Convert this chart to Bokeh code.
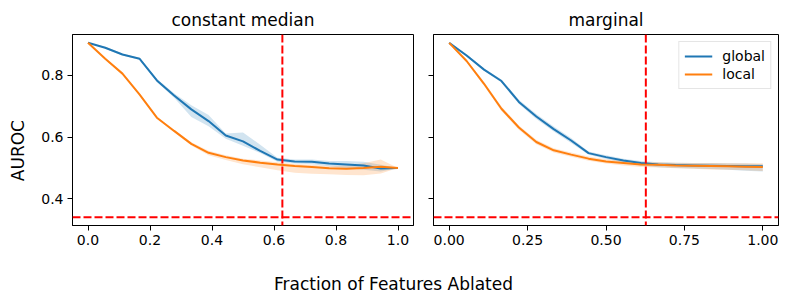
from bokeh.plotting import figure
from bokeh.layouts import row, column
from bokeh.models import (Range1d, Span, Legend, LegendItem, Label, FixedTicker,
                          NumeralTickFormatter, CustomJSTickFormatter)
from bokeh.embed import file_html
from bokeh.resources import INLINE

# ---------------- data ----------------
frac = [i / 18 for i in range(19)]

cm_global = [0.906, 0.890, 0.868, 0.854, 0.784, 0.735, 0.690, 0.652, 0.605, 0.586,
             0.555, 0.527, 0.521, 0.520, 0.514, 0.511, 0.508, 0.498, 0.500]
cm_global_lo = [0.906, 0.887, 0.865, 0.851, 0.779, 0.728, 0.665, 0.635, 0.595, 0.572,
                0.548, 0.520, 0.514, 0.512, 0.505, 0.500, 0.494, 0.488, 0.500]
cm_global_hi = [0.906, 0.893, 0.871, 0.857, 0.789, 0.742, 0.703, 0.672, 0.612, 0.615,
                0.575, 0.533, 0.527, 0.527, 0.522, 0.522, 0.520, 0.510, 0.500]

cm_local = [0.906, 0.854, 0.806, 0.738, 0.663, 0.620, 0.578, 0.549, 0.535, 0.524,
            0.517, 0.511, 0.506, 0.503, 0.499, 0.497, 0.500, 0.504, 0.500]
cm_local_lo = [0.906, 0.852, 0.804, 0.735, 0.660, 0.616, 0.573, 0.541, 0.526, 0.512,
               0.502, 0.492, 0.484, 0.481, 0.479, 0.477, 0.476, 0.482, 0.500]
cm_local_hi = [0.906, 0.856, 0.808, 0.741, 0.666, 0.624, 0.583, 0.556, 0.541, 0.530,
               0.524, 0.518, 0.513, 0.510, 0.506, 0.508, 0.515, 0.527, 0.500]

mg_global = [0.906, 0.865, 0.819, 0.782, 0.714, 0.667, 0.626, 0.589, 0.548, 0.535,
             0.524, 0.516, 0.511, 0.509, 0.508, 0.507, 0.506, 0.505, 0.505]
mg_global_lo = [0.906, 0.861, 0.815, 0.777, 0.707, 0.659, 0.618, 0.581, 0.543, 0.529,
                0.517, 0.508, 0.502, 0.500, 0.498, 0.496, 0.494, 0.491, 0.488]
mg_global_hi = [0.906, 0.869, 0.823, 0.787, 0.721, 0.675, 0.634, 0.597, 0.553, 0.541,
                0.530, 0.522, 0.518, 0.517, 0.516, 0.516, 0.515, 0.514, 0.512]

mg_local = [0.906, 0.847, 0.773, 0.692, 0.631, 0.584, 0.557, 0.543, 0.530, 0.521,
            0.516, 0.511, 0.510, 0.508, 0.507, 0.506, 0.505, 0.504, 0.503]
mg_local_lo = [0.906, 0.843, 0.767, 0.685, 0.624, 0.577, 0.550, 0.536, 0.523, 0.514,
               0.508, 0.503, 0.501, 0.499, 0.497, 0.495, 0.494, 0.492, 0.490]
mg_local_hi = [0.906, 0.851, 0.779, 0.699, 0.638, 0.591, 0.564, 0.550, 0.537, 0.528,
               0.523, 0.519, 0.518, 0.517, 0.516, 0.516, 0.515, 0.515, 0.515]

vline_x = 0.627
hline_y = 0.340

titles = ["constant median", "marginal"]
series_names = ["global", "local"]
x_ticks_left = [0.0, 0.2, 0.4, 0.6, 0.8, 1.0]
x_ticks_right = [0.0, 0.25, 0.5, 0.75, 1.0]
y_ticks = [0.4, 0.6, 0.8]

BLUE = "#1f77b4"
ORANGE = "#ff7f0e"
FONT = "DejaVu Sans"


def make_panel(title, g, glo, ghi, l, llo, lhi, width, mb_left, mb_right, xticks, xfmt, show_ylabels, legend):
    p = figure(width=width, height=255, output_backend="svg", toolbar_location=None,
               x_range=Range1d(-0.05, 1.05), y_range=Range1d(0.313, 0.933),
               min_border_left=mb_left, min_border_right=mb_right,
               min_border_top=34, min_border_bottom=30, title=title)
    p.title.align = "center"
    p.title.text_font = FONT
    p.title.text_font_size = "17px"
    p.title.text_font_style = "normal"
    p.title.text_color = "black"
    p.xgrid.visible = False
    p.ygrid.visible = False
    p.outline_line_color = "black"
    p.outline_line_alpha = 1
    for ax in (p.xaxis[0], p.yaxis[0]):
        ax.axis_line_color = "black"
        ax.major_tick_line_color = "black"
        ax.major_tick_out = 5
        ax.major_tick_in = 0
        ax.minor_tick_line_color = None
        ax.major_label_text_font = FONT
        ax.major_label_text_font_size = "14px"
        ax.major_label_text_color = "black"
        ax.major_label_standoff = 4
    p.xaxis.ticker = FixedTicker(ticks=xticks)
    p.xaxis.formatter = NumeralTickFormatter(format=xfmt)
    p.yaxis.ticker = FixedTicker(ticks=y_ticks)
    if show_ylabels:
        p.yaxis.formatter = NumeralTickFormatter(format="0.0")
    else:
        p.yaxis.formatter = CustomJSTickFormatter(code="return '';")
        p.yaxis.major_label_standoff = 0

    p.varea(x=frac, y1=glo, y2=ghi, fill_color=BLUE, fill_alpha=0.2)
    p.varea(x=frac, y1=llo, y2=lhi, fill_color=ORANGE, fill_alpha=0.2)
    rg = p.line(frac, g, line_color=BLUE, line_width=2)
    rl = p.line(frac, l, line_color=ORANGE, line_width=2)

    p.add_layout(Span(location=vline_x, dimension="height", line_color="red",
                      line_width=2, line_dash="8 3"))
    p.add_layout(Span(location=hline_y, dimension="width", line_color="red",
                      line_width=2, line_dash="8 3"))

    if legend:
        lg = Legend(items=[LegendItem(label=series_names[0], renderers=[rg]),
                           LegendItem(label=series_names[1], renderers=[rl])],
                    location="top_right", margin=7, padding=5, spacing=0,
                    glyph_width=28, glyph_height=18, label_standoff=10,
                    label_text_font=FONT, label_text_font_size="14px",
                    label_text_color="black",
                    border_line_color="#cccccc", border_line_width=1,
                    background_fill_alpha=0.8)
        p.add_layout(lg)
    return p


p1 = make_panel(titles[0], cm_global, cm_global_lo, cm_global_hi, cm_local, cm_local_lo, cm_local_hi,
                385, 33, 10, x_ticks_left, "0.0", True, False)
p2 = make_panel(titles[1], mg_global, mg_global_lo, mg_global_hi, mg_local, mg_local_lo, mg_local_hi,
                357, 10, 2, x_ticks_right, "0.00", False, True)

# super y label
yfig = figure(width=38, height=255, output_backend="svg", toolbar_location=None,
              x_range=Range1d(0, 38), y_range=Range1d(0, 255), min_border=0)
yfig.axis.visible = False
yfig.grid.visible = False
yfig.outline_line_color = None
yfig.add_layout(Label(x=17, y=100, text="AUROC", angle=90, angle_units="deg",
                      text_align="center", text_baseline="middle",
                      text_font=FONT, text_font_size="17px", text_color="black"))

# super x label
xfig = figure(width=780, height=46, output_backend="svg", toolbar_location=None,
              x_range=Range1d(0, 780), y_range=Range1d(0, 46), min_border=0)
xfig.axis.visible = False
xfig.grid.visible = False
xfig.outline_line_color = None
xfig.add_layout(Label(x=393, y=18, text="Fraction of Features Ablated",
                      text_align="center", text_baseline="middle",
                      text_font=FONT, text_font_size="17px", text_color="black"))

layout = column(row(yfig, p1, p2, spacing=0), xfig, spacing=0)

open("out.html", "w").write(file_html(layout, INLINE))
